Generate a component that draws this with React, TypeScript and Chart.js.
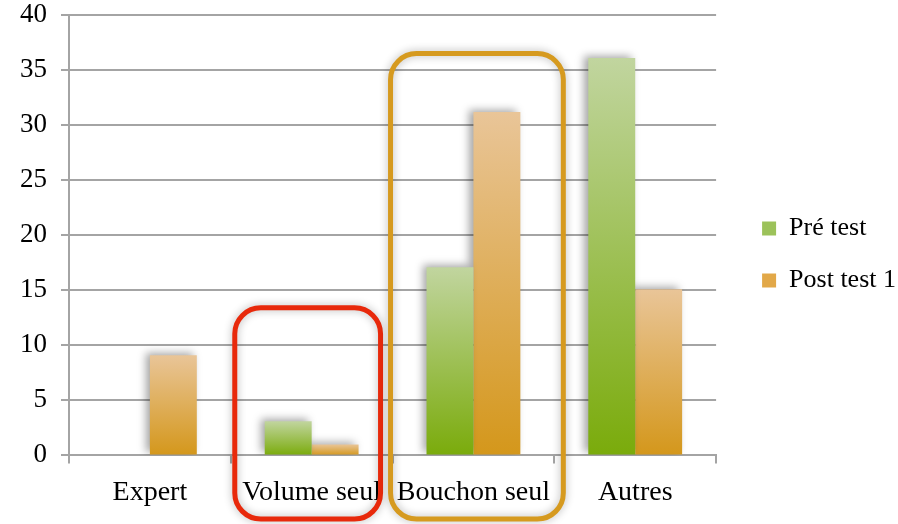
import React, { useEffect, useRef } from 'react';
import { Chart, registerables } from 'chart.js';

Chart.register(...registerables);

const categories = ['Expert', 'Volume seul', 'Bouchon seul', 'Autres'];
const seriesLabels = ['Pré test', 'Post test 1'];
const preTest = [0, 3.1, 17.1, 36.1];
const postTest1 = [9.1, 1, 31.2, 15.1];
const yMin = 0;
const yMax = 40;
const yStep = 5;

// highlighted categories (rounded frames), with the value their top edge reaches
const highlightIndex = [1, 2];
const highlightTop = [13.4, 36.5];
const highlightColor = ['#e8290b', '#d69a1f'];

const FONT = "'Liberation Serif', 'Times New Roman', serif";
const GRID = '#a4a4a4';

const grad = (top: string, bottom: string) => (c: any) => {
  const chart = c.chart;
  if (!chart.chartArea || c.type !== 'data') return bottom;
  const ys = chart.scales.y;
  const v = c.parsed ? c.parsed.y : c.raw;
  const y0 = ys.getPixelForValue(v);
  const y1 = ys.getPixelForValue(0);
  if (!(y1 > y0)) return bottom;
  const g = chart.ctx.createLinearGradient(0, y0, 0, y1);
  g.addColorStop(0, top);
  g.addColorStop(1, bottom);
  return g;
};

const barShadow = {
  id: 'barShadow',
  beforeDatasetsDraw(chart: any) {
    const ctx = chart.ctx;
    ctx.save();
    ctx.shadowColor = 'rgba(0,0,0,0.35)';
    ctx.shadowBlur = 8;
    ctx.shadowOffsetX = -4;
    ctx.shadowOffsetY = -2;
  },
  afterDatasetsDraw(chart: any) {
    chart.ctx.restore();
  },
};

const highlightFrames = {
  id: 'highlightFrames',
  afterDraw(chart: any) {
    const ctx = chart.ctx;
    const xs = chart.scales.x;
    const ys = chart.scales.y;
    highlightIndex.forEach((idx, i) => {
      const left = xs.getPixelForValue(idx - 0.5) + (i === 0 ? 4 : -2);
      const right = xs.getPixelForValue(idx + 0.5) + (i === 0 ? -12 : 9);
      const top = ys.getPixelForValue(highlightTop[i]);
      const bottom = chart.height - 5;
      const r = 26;
      ctx.save();
      ctx.shadowColor = 'rgba(0,0,0,0.3)';
      ctx.shadowBlur = 8;
      ctx.strokeStyle = highlightColor[i];
      ctx.lineWidth = 5;
      ctx.beginPath();
      ctx.roundRect(left, top, right - left, bottom - top, r);
      ctx.stroke();
      ctx.restore();
    });
  },
};

const legendShift = {
  id: 'legendShift',
  afterLayout(chart: any) {
    const l = chart.legend;
    if (!l) return;
    l.left += 20;
    l.right += 20;
    l.top -= 6;
    l.bottom -= 6;
  },
};

export default function App() {
  const ref = useRef<HTMLCanvasElement>(null);
  useEffect(() => {
    document.body.style.margin = '0';
    const chart = new Chart(ref.current!, {
      type: 'bar',
      data: {
        labels: categories,
        datasets: [
          {
            label: seriesLabels[0],
            data: preTest,
            backgroundColor: grad('#c1d59f', '#7aab0b'),
            categoryPercentage: 0.58,
            barPercentage: 1,
          },
          {
            label: seriesLabels[1],
            data: postTest1,
            backgroundColor: grad('#e9c598', '#d4971b'),
            categoryPercentage: 0.58,
            barPercentage: 1,
          },
        ],
      },
      options: {
        animation: false,
        responsive: true,
        maintainAspectRatio: false,
        layout: { padding: { left: 6, top: 0, bottom: 3, right: 12 } },
        plugins: {
          tooltip: { enabled: false },
          legend: {
            position: 'right',
            labels: {
              boxWidth: 14,
              boxHeight: 14,
              padding: 26,
              color: '#000',
              font: { family: FONT, size: 26 },
              generateLabels: () => [
                { text: seriesLabels[0], fillStyle: '#9cc25a', strokeStyle: '#9cc25a', lineWidth: 0, datasetIndex: 0 },
                { text: seriesLabels[1], fillStyle: '#e2a848', strokeStyle: '#e2a848', lineWidth: 0, datasetIndex: 1 },
              ] as any,
            },
          },
        },
        scales: {
          x: {
            grid: { offset: true, drawOnChartArea: false, drawTicks: true, tickLength: 8, color: GRID, lineWidth: 2 },
            border: { display: true, color: GRID, width: 2 },
            ticks: { color: '#000', font: { family: FONT, size: 28 }, padding: 12 },
          },
          y: {
            min: yMin,
            max: yMax,
            grid: { color: GRID, lineWidth: 2, tickLength: 8 },
            border: { display: true, color: GRID, width: 2 },
            ticks: { stepSize: yStep, color: '#000', font: { family: FONT, size: 27 }, padding: 14 },
            afterFit(scale: any) {
              scale.paddingTop = 15;
              scale.paddingBottom = 0;
            },
          },
        },
      },
      plugins: [barShadow, highlightFrames, legendShift],
    });
    return () => chart.destroy();
  }, []);
  return (
    <div style={{ width: 898, height: 524, position: 'relative' }}>
      <canvas ref={ref} />
    </div>
  );
}
